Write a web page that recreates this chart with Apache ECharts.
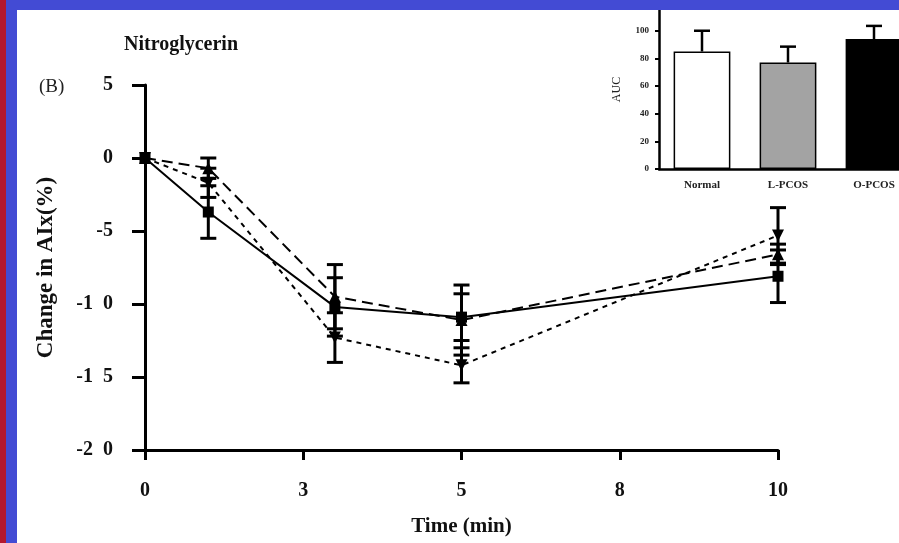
<!DOCTYPE html>
<html>
<head>
<meta charset="utf-8">
<script src="https://cdn.jsdelivr.net/npm/echarts@6/dist/echarts.min.js"></script>
<style>
  html, body { margin: 0; padding: 0; background: #fff; }
  #main { width: 899px; height: 543px; }
</style>
</head>
<body>
<div id="main"></div>
<script>
// time points (min) and change in AIx (%), mean and error
var times = [0, 1, 3, 5, 10];
var normal = [0, -3.7, -10.2, -10.9, -8.1];
var normalErr = [0, 1.8, 2.0, 1.6, 1.8];
var lPcos = [0, -0.7, -9.5, -11.1, -6.6];
var lPcosErr = [0, 0.7, 2.2, 2.4, 0.7];
var oPcos = [0, -1.7, -12.3, -14.2, -5.3];
var oPcosErr = [0, 1.0, 1.7, 1.2, 1.9];

// inset: area under curve
var groups = ['Normal', 'L-PCOS', 'O-PCOS'];
var auc = [85, 77, 94];
var aucErr = [15, 11.5, 9.5];
var aucColors = ['#ffffff', '#a3a3a3', '#000000'];

var font = 'Liberation Serif';

var myChart = echarts.init(document.getElementById('main'));

function pairs(vals, errs) {
    return times.map(function (t, i) { return [t, vals[i], errs[i]]; });
}

// 误差线（上下两端带帽）
function errorBars(vals, errs) {
    return {
        type: 'custom',
        xAxisIndex: 0,
        yAxisIndex: 0,
        z: 3,
        silent: true,
        data: pairs(vals, errs),
        renderItem: function (params, api) {
            var x = api.value(0), y = api.value(1), e = api.value(2);
            if (!e) return;
            var hi = api.coord([x, y + e]);
            var lo = api.coord([x, y - e]);
            var w = 8;
            var st = { stroke: '#000', lineWidth: 3 };
            return {
                type: 'group',
                children: [
                    { type: 'line', shape: { x1: hi[0], y1: hi[1], x2: lo[0], y2: lo[1] }, style: st },
                    { type: 'line', shape: { x1: hi[0] - w, y1: hi[1], x2: hi[0] + w, y2: hi[1] }, style: st },
                    { type: 'line', shape: { x1: lo[0] - w, y1: lo[1], x2: lo[0] + w, y2: lo[1] }, style: st }
                ]
            };
        }
    };
}

var option = {
    animation: false,
    backgroundColor: '#ffffff',
    textStyle: { fontFamily: font, color: '#111' },
    grid: [
        { left: 145, right: 121, top: 85, bottom: 93, outerBoundsMode: 'none' },
        { left: 659, width: 258, top: 10, bottom: 374, outerBoundsMode: 'none' }
    ],
    xAxis: [
        {
            type: 'value',
            gridIndex: 0,
            min: 0,
            max: 10,
            interval: 2.5,
            name: 'Time (min)',
            nameLocation: 'middle',
            nameGap: 66,
            nameTextStyle: { fontFamily: font, fontWeight: 'bold', fontSize: 21, color: '#111' },
            axisLine: { onZero: false, lineStyle: { color: '#000', width: 3 } },
            axisTick: { length: 10, lineStyle: { color: '#000', width: 3 } },
            axisLabel: {
                margin: 31,
                fontFamily: font, fontWeight: 'bold', fontSize: 20, color: '#111',
                formatter: function (v) { return String(Math.round(v)); }
            },
            splitLine: { show: false }
        },
        {
            type: 'category',
            gridIndex: 1,
            data: groups,
            axisLine: { lineStyle: { color: '#000', width: 2.5 } },
            axisTick: { alignWithLabel: true, length: 5, lineStyle: { color: '#000', width: 2.5 } },
            axisLabel: { margin: 11, fontFamily: font, fontWeight: 'bold', fontSize: 11, color: '#222' }
        }
    ],
    yAxis: [
        {
            type: 'value',
            gridIndex: 0,
            min: -20,
            max: 5,
            interval: 5,
            name: 'Change in AIx(%)',
            nameLocation: 'middle',
            nameGap: 87,
            nameTextStyle: { fontFamily: font, fontWeight: 'bold', fontSize: 23, color: '#111' },
            axisLine: { onZero: false, lineStyle: { color: '#000', width: 3 } },
            axisTick: { length: 13, lineStyle: { color: '#000', width: 3 } },
            axisLabel: {
                margin: 32,
                fontFamily: font, fontWeight: 'bold', fontSize: 20, color: '#111',
                formatter: function (v) {
                    var s = String(v);
                    return Math.abs(v) >= 10 ? s.slice(0, 2) + '  ' + s.slice(2) : s;
                }
            },
            splitLine: { show: false }
        },
        {
            type: 'value',
            gridIndex: 1,
            min: 0,
            max: 115,
            name: 'AUC',
            nameLocation: 'middle',
            nameGap: 36,
            nameTextStyle: { fontFamily: font, fontSize: 12, color: '#222' },
            axisLine: { show: true, lineStyle: { color: '#000', width: 2.5 } },
            axisTick: { show: true, length: 4, customValues: [0, 20, 40, 60, 80, 100], lineStyle: { color: '#000', width: 2 } },
            axisLabel: { margin: 10, fontFamily: font, fontWeight: 'bold', fontSize: 9, color: '#222', customValues: [0, 20, 40, 60, 80, 100] },
            splitLine: { show: false }
        }
    ],
    series: [
        errorBars(normal, normalErr),
        errorBars(lPcos, lPcosErr),
        errorBars(oPcos, oPcosErr),
        {
            name: 'Normal',
            type: 'line',
            data: pairs(normal, normalErr).map(function (d) { return [d[0], d[1]]; }),
            symbol: 'rect',
            symbolSize: 11,
            lineStyle: { color: '#000', width: 2 },
            itemStyle: { color: '#000' },
            z: 4
        },
        {
            name: 'L-PCOS',
            type: 'line',
            data: pairs(lPcos, lPcosErr).map(function (d) { return [d[0], d[1]]; }),
            symbol: 'triangle',
            symbolSize: 12,
            lineStyle: { color: '#000', width: 2, type: [11, 6] },
            itemStyle: { color: '#000' },
            z: 4
        },
        {
            name: 'O-PCOS',
            type: 'line',
            data: pairs(oPcos, oPcosErr).map(function (d) { return [d[0], d[1]]; }),
            symbol: 'triangle',
            symbolRotate: 180,
            symbolSize: 12,
            lineStyle: { color: '#000', width: 2, type: [5, 5] },
            itemStyle: { color: '#000' },
            z: 4
        },
        {
            type: 'bar',
            xAxisIndex: 1,
            yAxisIndex: 1,
            barWidth: '66%',
            data: auc.map(function (v, i) {
                return { value: v, itemStyle: { color: aucColors[i], borderColor: '#000', borderWidth: 1.5 } };
            }),
            z: 5
        },
        {
            type: 'custom',
            xAxisIndex: 1,
            yAxisIndex: 1,
            z: 4,
            data: auc.map(function (v, i) { return [i, v, aucErr[i]]; }),
            renderItem: function (params, api) {
                var lo = api.coord([api.value(0), api.value(1)]);
                var hi = api.coord([api.value(0), api.value(1) + api.value(2)]);
                var w = 8;
                var st = { stroke: '#000', lineWidth: 2.5 };
                return {
                    type: 'group',
                    children: [
                        { type: 'line', shape: { x1: lo[0], y1: lo[1], x2: hi[0], y2: hi[1] }, style: st },
                        { type: 'line', shape: { x1: hi[0] - w, y1: hi[1], x2: hi[0] + w, y2: hi[1] }, style: st }
                    ]
                };
            }
        }
    ],
    graphic: [
        { type: 'text', left: 124, top: 35, style: { text: 'Nitroglycerin', font: 'bold 20px "Liberation Serif"', fill: '#111' } },
        { type: 'text', left: 39, top: 78, style: { text: '(B)', font: '19px "Liberation Serif"', fill: '#222' } },
        // 外框
        { type: 'rect', left: 0, top: 0, z: 100, shape: { width: 899, height: 10 }, style: { fill: '#434bd4' } },
        { type: 'rect', left: 0, top: 0, z: 100, shape: { width: 17, height: 543 }, style: { fill: '#434bd4' } },
        { type: 'rect', left: 0, top: 0, z: 101, shape: { width: 6, height: 543 }, style: { fill: '#b3182f' } }
    ]
};

myChart.setOption(option);
</script>
</body>
</html>
